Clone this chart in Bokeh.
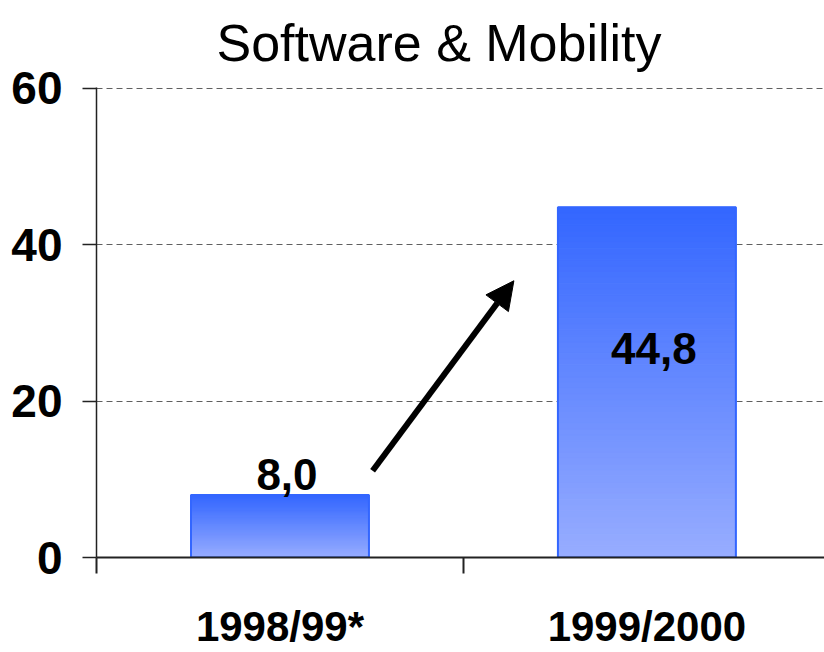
from bokeh.plotting import figure
from bokeh.models import Range1d, FixedTicker, Arrow, NormalHead, ColumnDataSource
from bokeh.embed import file_html
from bokeh.resources import INLINE
from bokeh.core.properties import value

# ---- data ----
categories = ["1998/99*", "1999/2000"]
values = [8.0, 44.8]
value_labels = ["8,0", "44,8"]
y_ticks = [0, 20, 40, 60]
title_text = "Software & Mobility"

FONT = "'Liberation Sans', Arial, sans-serif"
BAR_W = 0.485
TOP_COL = (0x33, 0x66, 0xFF)
BOT_COL = (0x98, 0xAD, 0xFF)

p = figure(width=824, height=652, output_backend="svg", toolbar_location=None,
           x_range=Range1d(0, 1.984), y_range=Range1d(0, 60.12),
           min_border_left=96, min_border_right=0, min_border_top=87, min_border_bottom=95)
p.outline_line_color = None
p.background_fill_color = "white"

p.title.text = title_text
p.title.text_font = FONT
p.title.text_font_style = "normal"
p.title.text_font_size = "52px"
p.title.text_color = "black"
p.title.align = "left"
p.title.offset = 120
p.title.vertical_align = "top"
p.title.standoff = 27

xs = [i + 0.5 for i in range(len(categories))]

# gradient bars built from strips
N = 60
left, right, bottom, top, colors = [], [], [], [], []
for x, v in zip(xs, values):
    for k in range(N):
        f = (k + 0.5) / N  # 0 bottom -> 1 top
        c = tuple(int(round(BOT_COL[j] + (TOP_COL[j] - BOT_COL[j]) * f)) for j in range(3))
        left.append(x - BAR_W / 2)
        right.append(x + BAR_W / 2)
        bottom.append(v * k / N)
        top.append(v * (k + 1) / N)
        colors.append("#%02x%02x%02x" % c)
p.quad(left=left, right=right, bottom=bottom, top=top, fill_color=colors,
       line_color=colors, line_width=1)
p.quad(left=[x - BAR_W / 2 for x in xs], right=[x + BAR_W / 2 for x in xs],
       bottom=[0] * len(values), top=values, fill_color=None, line_color="#3366ff", line_width=2)

# value labels
lab_y = [v if v < 15 else v * 0.551 for v in values]
lab_dy = [-20 if v < 15 else -16 for v in values]
src = ColumnDataSource(dict(x=xs, y=lab_y, t=value_labels, dy=lab_dy))
p.text(x="x", y="y", text="t", source=src, text_font=value(FONT), text_font_style="bold",
       text_font_size="44px", text_align="center", text_baseline="alphabetic",
       x_offset=7, y_offset="dy", text_color="black")

# arrow from bar 1 to bar 2
p.add_layout(Arrow(end=NormalHead(size=28, fill_color="black", line_color="black"),
                   x_start=xs[0] + BAR_W / 2 + 0.01, y_start=values[0] + 3.1,
                   x_end=xs[1] - BAR_W / 2 - 0.12, y_end=values[1] - 9.4,
                   line_width=6, line_color="black"))

# axes
p.xaxis.ticker = FixedTicker(ticks=xs, minor_ticks=[0, 1, 2])
p.xaxis.major_label_overrides = {x: c for x, c in zip(xs, categories)}
p.xaxis.major_tick_out = 0
p.xaxis.major_tick_in = 0
p.xaxis.minor_tick_out = 16
p.xaxis.minor_tick_in = 0
p.xaxis.minor_tick_line_color = "#222222"
p.xaxis.minor_tick_line_width = 2
p.xaxis.axis_line_color = "#222222"
p.xaxis.axis_line_width = 2
p.xaxis.major_label_text_font = FONT
p.xaxis.major_label_text_font_style = "bold"
p.xaxis.major_label_text_font_size = "42px"
p.xaxis.major_label_text_color = "black"
p.xaxis.major_label_standoff = 29

p.yaxis.ticker = FixedTicker(ticks=y_ticks)
p.yaxis.major_tick_out = 14
p.yaxis.major_tick_in = 0
p.yaxis.minor_tick_line_color = None
p.yaxis.major_tick_line_color = "#222222"
p.yaxis.major_tick_line_width = 1.5
p.yaxis.axis_line_color = "#222222"
p.yaxis.axis_line_width = 1.5
p.yaxis.major_label_text_font = FONT
p.yaxis.major_label_text_font_style = "bold"
p.yaxis.major_label_text_font_size = "46px"
p.yaxis.major_label_text_color = "black"
p.yaxis.major_label_standoff = 20

p.xgrid.grid_line_color = None
p.ygrid.ticker = FixedTicker(ticks=y_ticks[1:])
p.ygrid.grid_line_color = "#606060"
p.ygrid.grid_line_dash = "6 4"
p.ygrid.grid_line_width = 1

open("out.html", "w").write(file_html(p, INLINE))
